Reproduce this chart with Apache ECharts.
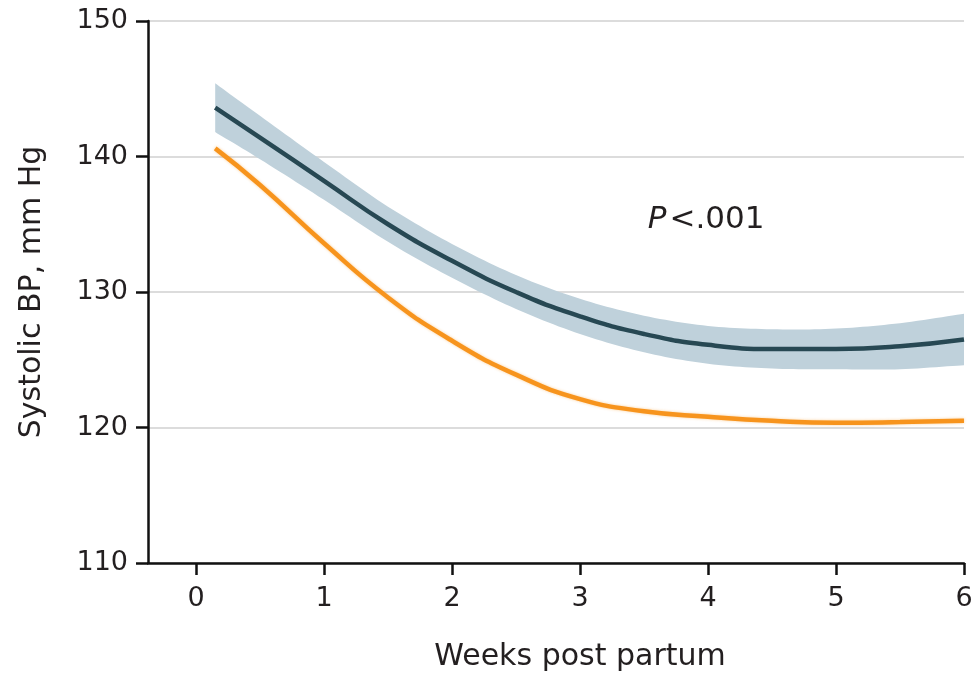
<!DOCTYPE html>
<html>
<head>
<meta charset="utf-8">
<script src="https://cdn.jsdelivr.net/npm/echarts@6/dist/echarts.min.js"></script>
<style>
html,body{margin:0;padding:0;background:#fff;}
#c{width:976px;height:677px;}
</style>
</head>
<body>
<div id="c"></div>
<script>
// Data
const weeks      = [0.15, 0.5, 1.0, 1.5, 2.0, 2.5, 3.0, 3.5, 4.0, 4.5, 5.0, 5.5, 6.0];
const darkMean   = [143.6, 141.4, 138.2, 135.0, 132.3, 130.0, 128.2, 126.9, 126.1, 125.8, 125.8, 126.0, 126.5];
const darkLower  = [141.8, 139.8, 136.8, 133.7, 131.05, 128.75, 126.9, 125.55, 124.7, 124.35, 124.3, 124.3, 124.6];
const darkUpper  = [145.4, 143.0, 139.6, 136.3, 133.55, 131.25, 129.5, 128.25, 127.5, 127.25, 127.3, 127.7, 128.4];
const orangeMean = [140.6, 137.9, 133.6, 129.6, 126.4, 123.9, 122.1, 121.2, 120.8, 120.5, 120.35, 120.4, 120.5];
const xTicks = [0, 1, 2, 3, 4, 5, 6];
const yTicks = [110, 120, 130, 140, 150];
const xTitle = 'Weeks post partum';
const yTitle = 'Systolic BP, mm Hg';
const pText = '.001';

const FONT = '"DejaVu Sans", sans-serif';
const TXT = '#231f20';

const pair = (xs, ys) => xs.map((x, i) => [x, ys[i]]);

// Catmull-Rom sampling of pixel points (rendering helper only)
function spline(pts, n) {
  const out = [];
  for (let i = 0; i < pts.length - 1; i++) {
    const p0 = pts[Math.max(0, i - 1)], p1 = pts[i], p2 = pts[i + 1], p3 = pts[Math.min(pts.length - 1, i + 2)];
    for (let k = 0; k < n; k++) {
      const t = k / n, t2 = t * t, t3 = t2 * t;
      const f = (a, b, c, d) => 0.5 * (2 * b + (-a + c) * t + (2 * a - 5 * b + 4 * c - d) * t2 + (-a + 3 * b - 3 * c + d) * t3);
      out.push([f(p0[0], p1[0], p2[0], p3[0]), f(p0[1], p1[1], p2[1], p3[1])]);
    }
  }
  out.push(pts[pts.length - 1]);
  return out;
}

const chart = echarts.init(document.getElementById('c'), null, {renderer: 'canvas'});
chart.setOption({
  animation: false,
  backgroundColor: '#fff',
  grid: {left: 148, right: 12, top: 21, bottom: 114, containLabel: false},
  xAxis: {
    type: 'value', min: -0.375, max: 6,
    axisLine: {show: true, onZero: false, lineStyle: {color: '#111', width: 2.5}},
    axisTick: {show: true, length: 12, customValues: xTicks, lineStyle: {color: '#111', width: 2.5}},
    axisLabel: {customValues: xTicks, margin: 22, fontSize: 27, color: TXT, fontFamily: FONT},
    splitLine: {show: false}
  },
  yAxis: {
    type: 'value', min: yTicks[0], max: yTicks[yTicks.length - 1], interval: 10,
    name: yTitle, nameLocation: 'middle', nameGap: 101, nameRotate: 90,
    nameTextStyle: {fontSize: 30, color: TXT, fontFamily: FONT},
    axisLine: {show: true, onZero: false, lineStyle: {color: '#111', width: 2.5}},
    axisTick: {show: true, length: 12, lineStyle: {color: '#111', width: 2.5}},
    axisLabel: {margin: 20, fontSize: 27, color: TXT, fontFamily: FONT},
    splitLine: {show: true, lineStyle: {color: '#dcdcdc', width: 2}}
  },
  series: [
    {
      type: 'custom', silent: true, clip: true, z: 1,
      data: weeks.map((w, i) => [w, darkLower[i], darkUpper[i]]),
      encode: {x: 0, y: [1, 2]},
      renderItem: function (params, api) {
        if (params.dataIndex !== 0) return null;
        const up = weeks.map((w, i) => api.coord([w, darkUpper[i]]));
        const lo = weeks.map((w, i) => api.coord([w, darkLower[i]])).reverse();
        const pts = spline(up, 12).concat(spline(lo, 12));
        return {type: 'polygon', shape: {points: pts}, style: {fill: '#bfd1db'}};
      }
    },
    {type: 'line', data: pair(weeks, orangeMean), smooth: true, symbol: 'none', z: 3,
     lineStyle: {color: '#f7941d', width: 4.5, cap: 'butt', shadowColor: 'rgba(247,148,29,0.45)', shadowBlur: 3}},
    {type: 'line', data: pair(weeks, darkMean), smooth: true, symbol: 'none', z: 4,
     lineStyle: {color: '#274853', width: 4.5, cap: 'butt'}}
  ]
});

const pLabel = chart.convertToPixel({gridIndex: 0}, [3.53, 135.3]);
const xCenter = chart.convertToPixel({gridIndex: 0}, [3, 110]);
chart.setOption({
  graphic: [
    {type: 'text', x: pLabel[0], y: pLabel[1], z: 10,
     style: {text: '{i|P}<' + pText, fontSize: 31, fill: TXT, fontFamily: FONT, verticalAlign: 'middle', align: 'left',
       rich: {i: {fontStyle: 'italic', fontSize: 31, fontFamily: FONT, fill: TXT, padding: [0, 3, 0, 0]}}}},
    {type: 'text', x: xCenter[0], y: 657, z: 10,
     style: {text: xTitle, fontSize: 30, fill: TXT, fontFamily: FONT, align: 'center', verticalAlign: 'middle'}}
  ]
});
</script>
</body>
</html>
